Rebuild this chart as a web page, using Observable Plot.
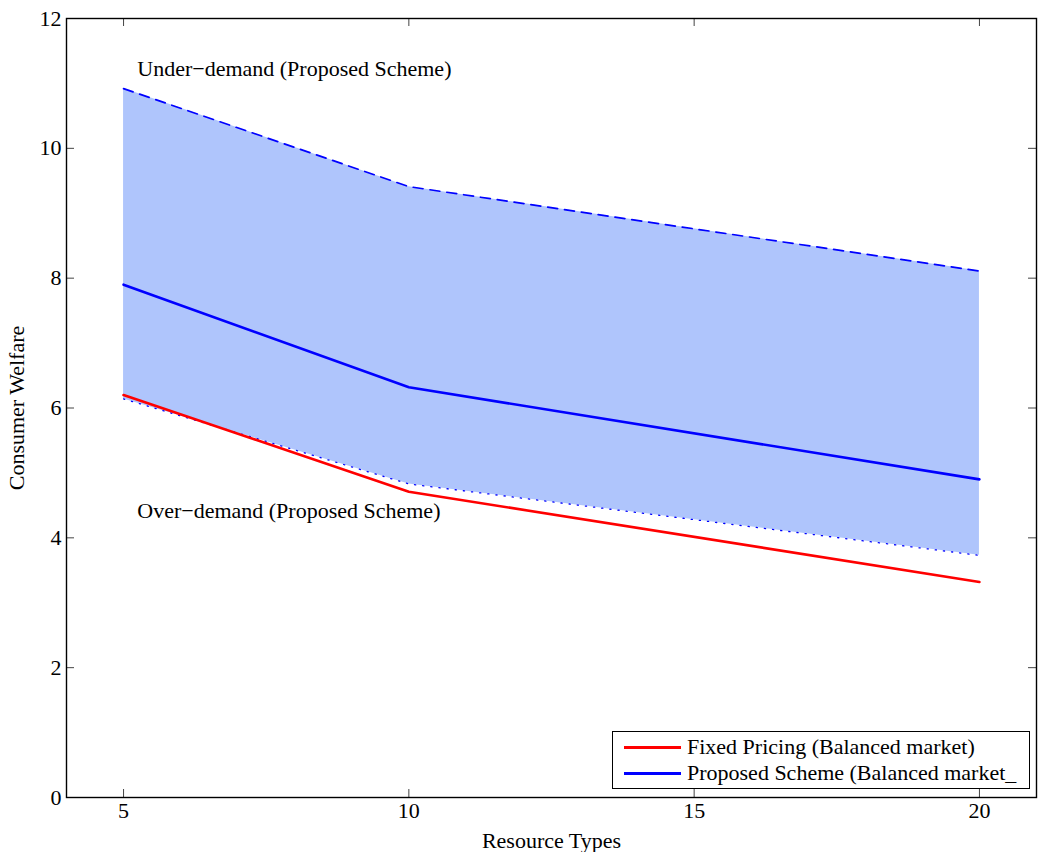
<!DOCTYPE html>
<html>
<head>
<meta charset="utf-8">
<script src="https://cdn.jsdelivr.net/npm/d3@7"></script>
<script src="https://cdn.jsdelivr.net/npm/@observablehq/plot@0.6"></script>
<style>
  html, body { margin: 0; padding: 0; background: #fff; }
  #wrap { position: relative; width: 1038px; height: 852px; font-family: "Liberation Serif", "Times New Roman", serif; }
  #legend { position: absolute; left: 612px; top: 731px; width: 416px; height: 56px; border: 1.5px solid #000; background: #fff; font-size: 22px; }
  .row { position: absolute; left: 0; height: 26px; display: flex; align-items: center; white-space: nowrap; }
  .sw { width: 57px; height: 3px; margin-left: 11px; margin-right: 6px; }
</style>
</head>
<body>
<div id="wrap"></div>
<script>
// Data
const resourceTypes = [5, 10, 20];
const fixedPricing = [6.2, 4.71, 3.32];
const proposedScheme = [7.9, 6.32, 4.9];
const underDemand = [10.92, 9.41, 8.11];
const overDemand = [6.14, 4.83, 3.73];
const xTicks = [5, 10, 15, 20];
const yTicks = [0, 2, 4, 6, 8, 10, 12];
const annotationLabels = ["Under\u2212demand (Proposed Scheme)", "Over\u2212demand (Proposed Scheme)"];
const annotationX = [5.24, 5.24];
const annotationY = [11.23, 4.42];
const legendLabels = ["Fixed Pricing (Balanced market)", "Proposed Scheme (Balanced market_"];
const legendColors = ["#ff0000", "#0000ff"];

const W = 1038, H = 852;
const mL = 66, mR = 2, mT = 18, mB = 55;
const innerH = H - mT - mB, innerW = W - mL - mR;
const tickLen = 8;

const chart = Plot.plot({
  width: W, height: H,
  marginLeft: mL, marginRight: mR, marginTop: mT, marginBottom: mB,
  style: { fontFamily: "'Liberation Serif', 'Times New Roman', serif", fontSize: "22px", color: "#000", background: "#fff" },
  x: { domain: [4, 21], ticks: xTicks, label: "Resource Types" },
  y: { domain: [0, 12], ticks: yTicks, label: "Consumer Welfare" },
  marks: [
    Plot.areaY(resourceTypes, { x: resourceTypes, y1: overDemand, y2: underDemand, fill: "#afc5fc", fillOpacity: 1 }),
    Plot.line(resourceTypes, { x: resourceTypes, y: underDemand, stroke: "#0000ff", strokeWidth: 1.7, strokeDasharray: "10,7" }),
    Plot.line(resourceTypes, { x: resourceTypes, y: overDemand, stroke: "#0000ff", strokeWidth: 1.3, strokeDasharray: "1.2,7" }),
    Plot.line(resourceTypes, { x: resourceTypes, y: proposedScheme, stroke: "#0000ff", strokeWidth: 2.6 }),
    Plot.line(resourceTypes, { x: resourceTypes, y: fixedPricing, stroke: "#ff0000", strokeWidth: 2.6 }),
    Plot.text(annotationLabels, { x: annotationX, y: annotationY, text: d => d, textAnchor: "start", fill: "#000", fontSize: 22 }),
    // inward ticks on all four sides
    Plot.tickX(xTicks, { x: d => d, insetTop: innerH - tickLen, stroke: "#444", strokeWidth: 1 }),
    Plot.tickX(xTicks, { x: d => d, insetBottom: innerH - tickLen, stroke: "#444", strokeWidth: 1 }),
    Plot.tickY(yTicks, { y: d => d, insetRight: innerW - tickLen, stroke: "#444", strokeWidth: 1 }),
    Plot.tickY(yTicks, { y: d => d, insetLeft: innerW - tickLen, stroke: "#444", strokeWidth: 1 }),
    Plot.axisX({ ticks: xTicks, tickSize: 0, tickPadding: 5, fontSize: 22, label: "Resource Types", labelAnchor: "center", labelOffset: 50, labelArrow: "none" }),
    Plot.axisY({ ticks: yTicks, tickSize: 0, tickPadding: 5, fontSize: 22, label: "Consumer Welfare", labelAnchor: "center", labelOffset: 58, labelArrow: "none" }),
    Plot.frame({ stroke: "#000", strokeWidth: 1.4 })
  ]
});

const wrap = document.getElementById("wrap");
wrap.appendChild(chart);

const legend = document.createElement("div");
legend.id = "legend";
legendLabels.forEach((lab, i) => {
  const row = document.createElement("div");
  row.className = "row";
  row.style.top = (2 + i * 26) + "px";
  const sw = document.createElement("span");
  sw.className = "sw";
  sw.style.background = legendColors[i];
  const t = document.createElement("span");
  t.textContent = lab;
  row.appendChild(sw);
  row.appendChild(t);
  legend.appendChild(row);
});
wrap.appendChild(legend);
</script>
</body>
</html>
